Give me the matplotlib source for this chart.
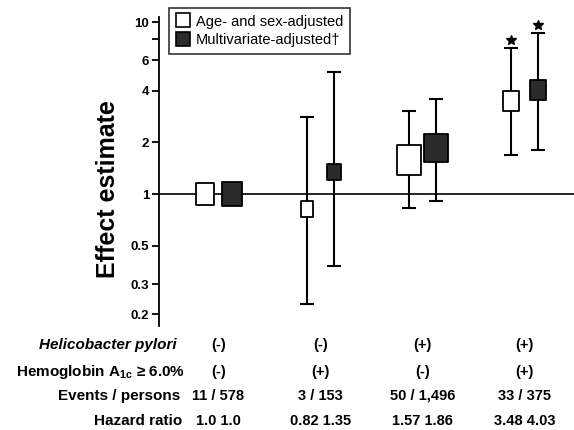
"""
Effect estimate por grupo H. pylori / HbA1c, com tabela abaixo do eixo.
"""
import numpy as np
import matplotlib
matplotlib.use("Agg")
import matplotlib.pyplot as plt
from matplotlib.path import Path as MPath
from matplotlib.lines import Line2D
import matplotlib.transforms as mtransforms

plt.rcParams["font.family"] = ["Liberation Sans", "DejaVu Sans"]
plt.rcParams["mathtext.fontset"] = "custom"
plt.rcParams["mathtext.rm"] = "Liberation Sans:bold"
plt.rcParams["mathtext.it"] = "Liberation Sans:bold"
plt.rcParams["mathtext.bf"] = "Liberation Sans:bold"

# --- dados ---
groups = [0, 1, 2, 3]
hr_age = [1.0, 0.82, 1.57, 3.48]
lo_age = [np.nan, 0.23, 0.83, 1.69]
hi_age = [np.nan, 2.8, 3.04, 7.06]
hr_multi = [1.0, 1.35, 1.86, 4.03]
lo_multi = [np.nan, 0.38, 0.91, 1.80]
hi_multi = [np.nan, 5.1, 3.57, 8.63]
significant = [False, False, False, True]

hp_status = ["(-)", "(-)", "(+)", "(+)"]
hba1c_status = ["(-)", "(+)", "(-)", "(+)"]
events = ["11 / 578", "3 / 153", "50 / 1,496", "33 / 375"]
hr_labels = ["1.0 1.0", "0.82 1.35", "1.57 1.86", "3.48 4.03"]

yticks = [0.2, 0.3, 0.5, 1, 2, 4, 6, 8, 10]
ytick_labels = ["0.2", "0.3", "0.5", "1", "2", "4", "6", "", "10"]

# tamanho dos quadrados (pt), proporcional ao peso
size_age = [16, 11, 21, 14]
size_multi = [17, 11.5, 20, 14.5]

OFFSET = 0.13
GRAY = "#2b2b2b"
LFS = 11    # fonte dos rotulos da tabela
VFS = 10.5  # fonte dos valores da tabela

# marcador retangular (um pouco mais alto que largo)
rect = MPath([(-0.42, -0.5), (0.42, -0.5), (0.42, 0.5), (-0.42, 0.5), (-0.42, -0.5)],
             [MPath.MOVETO, MPath.LINETO, MPath.LINETO, MPath.LINETO, MPath.CLOSEPOLY])

W, H = 574, 430
fig = plt.figure(figsize=(W / 100, H / 100), dpi=100)
ax = fig.add_axes([159 / W, 1 - 326 / H, (W - 159) / W, (326 - 17) / H])

ax.set_yscale("log")
ax.set_ylim(0.171, 10.7)
ax.set_xlim(-0.583, 3.485)
ax.axhline(1, color="black", lw=1.2, zorder=1)

for hr, lo, hi, sizes, dx, face in [
    (hr_age, lo_age, hi_age, size_age, -OFFSET, "white"),
    (hr_multi, lo_multi, hi_multi, size_multi, OFFSET, GRAY),
]:
    hr = np.array(hr)
    lo = np.array(lo)
    hi = np.array(hi)
    xs = np.array(groups) + dx
    ok = ~np.isnan(lo)
    ax.errorbar(xs[ok], hr[ok], yerr=[hr[ok] - lo[ok], hi[ok] - hr[ok]], fmt="none",
                ecolor="black", elinewidth=1.5, capsize=5, capthick=1.5, zorder=2)
    for x, y, s in zip(xs, hr, sizes):
        ax.plot(x, y, marker=rect, ms=s, mfc=face, mec="black", mew=1.3, zorder=3)
    # asterisco de significancia
    star_tr = mtransforms.offset_copy(ax.transData, fig=fig, x=0, y=6, units="points")
    for x, h, sig in zip(xs, hi, significant):
        if sig:
            ax.plot(x, h, marker="*", ms=7, color="black", transform=star_tr, zorder=3)

ax.set_yticks(yticks)
ax.set_yticklabels(ytick_labels, fontsize=9.5, fontweight="bold")
ax.yaxis.set_minor_locator(matplotlib.ticker.NullLocator())
ax.tick_params(axis="y", length=5, width=1.3, pad=2)
ax.set_xticks([])
for side in ["top", "right", "bottom"]:
    ax.spines[side].set_visible(False)
ax.spines["left"].set_linewidth(1.3)
ax.set_ylabel("Effect estimate", fontsize=18, fontweight="bold")
ax.yaxis.set_label_coords(-0.094, 0.443)

handles = [
    Line2D([], [], ls="none", marker="s", ms=10, mfc="white", mec="black", mew=1.2),
    Line2D([], [], ls="none", marker="s", ms=10, mfc=GRAY, mec="black", mew=1.2),
]
leg = ax.legend(handles, ["Age- and sex-adjusted", "Multivariate-adjusted\u2020"],
                loc="upper left", bbox_to_anchor=(0.024, 1.029), fontsize=10.5,
                frameon=True, fancybox=False, edgecolor="black", handletextpad=0.4,
                handlelength=1.0, borderpad=0.45, labelspacing=0.3, borderaxespad=0)
leg.get_frame().set_linewidth(1.2)

# --- tabela abaixo do grafico ---
def fy(y):
    return 1 - y / H

row_y = [345, 372, 396, 421]
label_x = [177, 185, 180, 182]
row_labels = ["Helicobacter pylori", "Hemoglobin A$_{\\mathregular{1c}}$ \u2265 6.0%",
              "Events / persons", "Hazard ratio"]
for lx, ly, lab, st in zip(label_x, row_y, row_labels, ["italic", "normal", "normal", "normal"]):
    fig.text(lx / W, fy(ly), lab, ha="right", va="center", fontsize=LFS,
             fontweight="bold", style=st)

# valores centrados em cada grupo (x em dados, y em figura)
col_tr = mtransforms.blended_transform_factory(ax.transData, fig.transFigure)
for row, vals in zip(row_y, [hp_status, hba1c_status, events, hr_labels]):
    for g, v in zip(groups, vals):
        fig.text(g, fy(row), v, transform=col_tr, ha="center", va="center",
                 fontsize=VFS, fontweight="bold")

fig.savefig("out.png", dpi=100)
